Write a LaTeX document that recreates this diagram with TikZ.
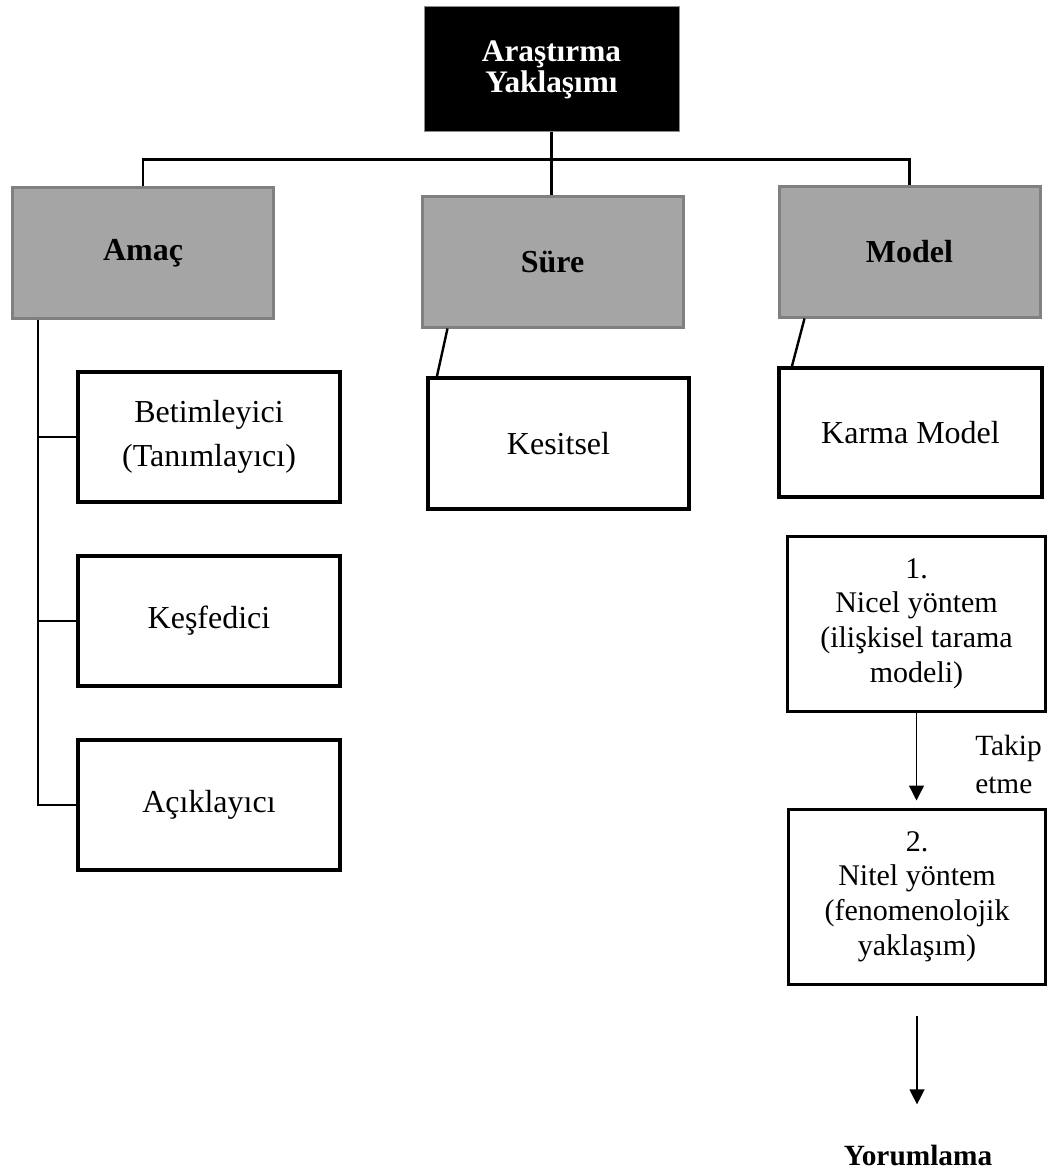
\documentclass[tikz,border=0pt]{standalone}
\usepackage{fontspec}
\setmainfont{Liberation Serif}
\usetikzlibrary{arrows.meta,calc}
\definecolor{boxgrey}{RGB}{165,165,165}
\definecolor{edgegrey}{RGB}{128,128,128}
\begin{document}
\begin{tikzpicture}[x=0.75pt,y=-0.75pt,
  link/.style={line width=1.8pt, draw=black},
  flow/.style={line width=1pt, draw=black, -{Triangle[width=11.25pt,length=11.25pt]}},
  headbox/.style={rectangle, fill=black, draw=black!45, line width=0.75pt, text=white,
    align=center, inner sep=0pt, font=\bfseries\fontsize{23.5}{23.25}\selectfont,
    minimum width=191.25pt, minimum height=93.75pt},
  greybox/.style={rectangle, fill=boxgrey, draw=edgegrey, line width=2.25pt, inner sep=0pt,
    font=\bfseries\fontsize{24}{28}\selectfont, minimum width=195.75pt, minimum height=97.5pt},
  itembox/.style={rectangle, fill=white, draw=black, line width=3pt, inner sep=0pt,
    align=center, font=\fontsize{24}{33}\selectfont, minimum width=196.5pt, minimum height=98pt},
  stepbox/.style={rectangle, fill=white, draw=black, line width=2.25pt, inner sep=0pt,
    align=center, font=\fontsize{22.5}{25.9}\selectfont, minimum width=193pt, minimum height=131.25pt}
]
% canvas
\fill[white] (0,0) rectangle (1048,1169);
\useasboundingbox (0,0) rectangle (1048,1169);

% top level
\node[headbox] (top) at (551.5,69.5) {Araştırma\\Yaklaşımı};

% second level
\node[greybox] (amac)  at (143,253)   {Amaç};
\node[greybox] (sure)  at (552.5,262) {Süre};
\node[greybox] (model) at (909.5,252) {Model};

% purpose branch
\node[itembox] (betim) at (209,437) {Betimleyici\\(Tanımlayıcı)};
\node[itembox] (kesf)  at (209,621) {Keşfedici};
\node[itembox] (acik)  at (209,805) {Açıklayıcı};

% duration branch
\node[itembox, minimum width=195.75pt, minimum height=98.25pt] (kesit) at (558.5,443.5) {Kesitsel};

% model branch
\node[itembox, minimum width=197.25pt, minimum height=96.75pt] (karma) at (910.5,432.5) {Karma Model};
\node[stepbox] (nicel) at (916.5,623.5) {1.\\Nicel yöntem\\(ilişkisel tarama\\modeli)};
\node[stepbox] (nitel) at (917,896.5) {2.\\Nitel yöntem\\(fenomenolojik\\yaklaşım)};
\node[anchor=north west, inner sep=0pt, align=left, font=\fontsize{22}{28.5}\selectfont] (takip) at (975,735) {Takip\\etme};
\node[anchor=base, inner sep=0pt, font=\bfseries\fontsize{22}{26}\selectfont] (yorum) at (918,1165) {Yorumlama};

% tree connectors
\draw[link] (top.south) -- (top.south |- sure.north);
\draw[link] (amac.north) -- ++(0,-27) -| (model.north);

\coordinate (spine) at ($(amac.south west)+(27,0)$);
\draw[link] (spine) |- (acik.west);
\draw[link] (spine |- betim.west) -- (betim.west);
\draw[link] (spine |- kesf.west) -- (kesf.west);

\draw[link] ($(sure.south west)+(27,0)$) -- ($(kesit.north west)+(11,0)$);
\draw[link] ($(model.south west)+(27,0)$) -- ($(karma.north west)+(15,0)$);

% sequence arrows
\draw[flow, shorten >=5.25pt] (nicel.south) -- (nicel.south |- nitel.north);
\draw[flow, shorten <=22.5pt, shorten >=30pt] (nitel.south) -- (nitel.south |- yorum.north);
\end{tikzpicture}
\end{document}
